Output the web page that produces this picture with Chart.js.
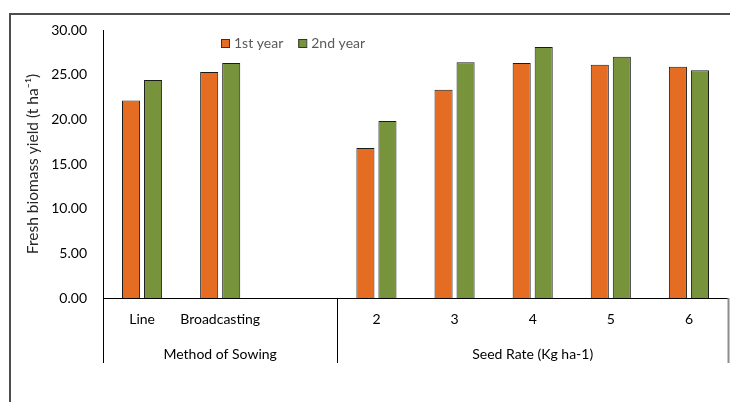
<!DOCTYPE html>
<html>
<head>
<meta charset="utf-8">
<script src="https://cdn.jsdelivr.net/npm/chart.js@4.4.1/dist/chart.umd.min.js"></script>
<style>
  html, body { margin: 0; padding: 0; background: #fff; }
  #myChart { display: block; }
</style>
</head>
<body>
<canvas id="myChart" width="730" height="402"></canvas>
<script>
// Data

var categories = ['Line', 'Broadcasting', '', '2', '3', '4', '5', '6'];
var firstYear = [22.1, 25.3, null, 16.8, 23.3, 26.3, 26.1, 25.9];
var secondYear = [24.4, 26.3, null, 19.8, 26.4, 28.1, 27.0, 25.5];
var yTicks = [0, 5, 10, 15, 20, 25, 30];
var groupNames = ['Method of Sowing', 'Seed Rate (Kg ha-1)'];
var groupSizes = [3, 5];

var FONT = 'Lato, "Liberation Sans", sans-serif';

// Frame, group labels and legend

var extras = {
  id: 'extras',
  beforeDraw: function(chart) {
    var c = chart.ctx;
    c.save();
    c.strokeStyle = '#4d4d4d';
    c.lineWidth = 2;
    c.strokeRect(10, 14, 760, 420);
    c.restore();
  },
  afterDraw: function(chart) {
    var c = chart.ctx;
    var x = chart.scales.x;
    var area = chart.chartArea;
    var lineBottom = 363;

    c.save();
    // group dividers
    var start = 0;
    var edges = [area.left];
    for (var g = 0; g < groupSizes.length; g++) {
      var end = start + groupSizes[g] - 1;
      var left = g === 0 ? area.left : (x.getPixelForValue(start - 1) + x.getPixelForValue(start)) / 2;
      var right = g === groupSizes.length - 1 ? area.right : (x.getPixelForValue(end) + x.getPixelForValue(end + 1)) / 2;
      edges.push(right);
      c.fillStyle = '#000';
      c.font = '14px ' + FONT;
      c.textAlign = 'center';
      c.textBaseline = 'middle';
      c.fillText(groupNames[g], (left + right) / 2, 354);
      start = end + 1;
    }
    for (var i = 0; i < edges.length; i++) {
      var ex = Math.round(edges[i]) + 0.5;
      c.strokeStyle = i === edges.length - 1 ? '#8c8c8c' : '#000';
      c.lineWidth = i === edges.length - 1 ? 2 : 1;
      c.beginPath();
      c.moveTo(ex, area.bottom);
      c.lineTo(ex, lineBottom);
      c.stroke();
    }

    // legend
    var lx = 221;
    var ly = 39;
    c.font = '14px ' + FONT;
    c.textAlign = 'left';
    c.textBaseline = 'middle';
    chart.data.datasets.forEach(function(ds) {
      c.fillStyle = ds.backgroundColor;
      c.fillRect(lx, ly, 8, 8);
      c.strokeStyle = '#333';
      c.lineWidth = 1;
      c.strokeRect(lx + 0.5, ly + 0.5, 8, 8);
      c.fillStyle = '#595959';
      c.fillText(ds.label, lx + 13, ly + 4.5);
      lx += 13 + c.measureText(ds.label).width + 15;
    });
    c.restore();
  }
};

// Graph

var ctx = document.getElementById('myChart').getContext('2d');

var chart = new Chart(ctx, {
  type: 'bar',
  data: {
    labels: categories,
    datasets: [{
      label: '1st year',
      backgroundColor: '#E46C23',
      borderColor: '#1a1a1a',
      borderWidth: 1,
      data: firstYear
    },
    {
      label: '2nd year',
      backgroundColor: '#77933C',
      borderColor: '#1a1a1a',
      borderWidth: 1,
      data: secondYear
    }]
  },
  options: {
    responsive: false,
    animation: false,
    devicePixelRatio: 1,
    layout: { padding: { top: 30, right: 2, left: 0, bottom: 0 } },
    datasets: { bar: { categoryPercentage: 0.564, barPercentage: 0.82 } },
    plugins: {
      legend: { display: false },
      tooltip: { enabled: false }
    },
    scales: {
      x: {
        grid: { display: false, drawTicks: false },
        border: { display: true, color: '#000', width: 1 },
        ticks: {
          autoSkip: false,
          maxRotation: 0,
          padding: 13,
          color: '#000',
          font: { family: FONT, size: 14 }
        },
        afterFit: function(scale) { scale.height = 104; }
      },
      y: {
        min: 0,
        max: 30,
        afterBuildTicks: function(scale) {
          scale.ticks = yTicks.map(function(v) { return { value: v }; });
        },
        grid: { display: false, drawTicks: false },
        border: { display: true, color: '#000', width: 1 },
        ticks: {
          padding: 16,
          color: '#000',
          font: { family: FONT, size: 14 },
          callback: function(v) { return v.toFixed(2); }
        },
        title: {
          display: true,
          text: 'Fresh biomass yield (t ha\u207B\u00B9)',
          color: '#262626',
          font: { family: FONT, size: 15.5 },
          padding: { top: 24, bottom: 0 }
        },
        afterFit: function(scale) { scale.width = 103; }
      }
    }
  },
  plugins: [extras]
});
</script>
</body>
</html>
